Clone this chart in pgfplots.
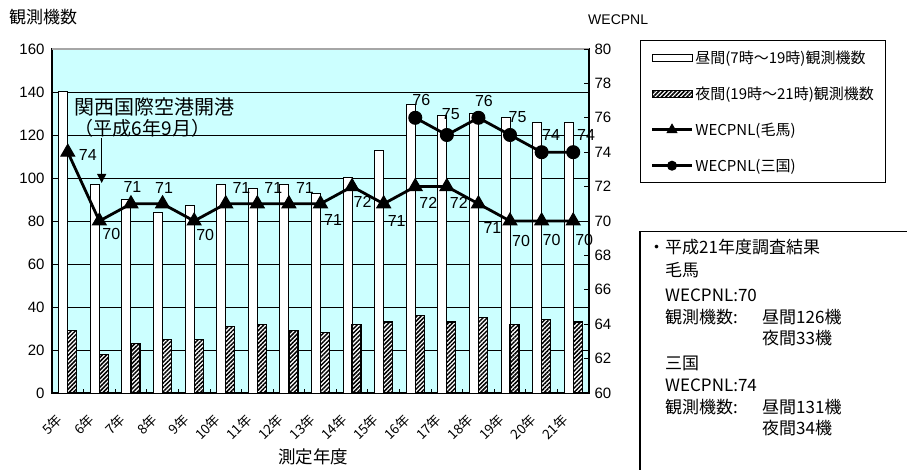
\documentclass[border=0pt]{standalone}
\usepackage{fontspec}
\setmainfont{Liberation Sans}
\newfontfamily\jp{Noto Sans CJK JP}
\usepackage{pgfplots}
\pgfplotsset{compat=1.18}
\usepackage{pgfplotstable}
\usetikzlibrary{patterns,patterns.meta,arrows.meta}
\definecolor{bgc}{RGB}{204,255,255}
\newcommand\fs[1]{\fontsize{#1bp}{#1bp}\selectfont}
\pgfplotsset{
  trileg/.style={legend image code/.code={\draw[mark repeat=2, mark phase=2, ##1, mark size=5.5bp] plot coordinates {(0bp,0bp) (20bp,0bp) (40bp,0bp)};}},
  cirleg/.style={legend image code/.code={\draw[mark repeat=2, mark phase=2, ##1, mark size=4.5bp] plot coordinates {(0bp,0bp) (20bp,0bp) (40bp,0bp)};}},
}
\tikzset{hatch/.style={postaction={pattern={Lines[angle=45, distance=3bp, line width=1.5bp]}, pattern color=black}}}

\pgfplotstableread{
x day night
0 140 29
1 97 18
2 90 23
3 84 25
4 87 25
5 97 31
6 95 32
7 97 29
8 93 28
9 100 32
10 113 33
11 134 36
12 129 33
13 130 35
14 128 32
15 126 34
16 126 33
}\counts

\pgfplotstableread{
x w dx dy
0 74 20 -3
1 70 12 -13
2 71 1.5 17
3 71 1.5 16
4 70 11 -14
5 71 15.7 16
6 71 16 16
7 71 16 16
8 71 12.5 -16
9 72 10.5 -15
10 71 13 -16.7
11 72 13 -16.7
12 72 12 -16.7
13 71 14 -24
14 70 11 -20
15 70 10 -19
16 70 11 -19
}\kema

\pgfplotstableread{
x w dx dy
11 76 6 17.8
12 75 4 21
13 76 5.5 17
14 75 7.5 17.5
15 74 9.4 17
16 74 12.8 17
}\mikuni

\begin{document}
\begin{tikzpicture}
\useasboundingbox (0bp,0bp) rectangle (907bp,470bp);

\begin{axis}[
  at={(52bp,77bp)}, anchor=south west, scale only axis,
  width=537bp, height=344bp,
  xmin=-0.5, xmax=16.5, ymin=0, ymax=160,
  axis background/.style={fill=bgc},
  ybar=0pt, bar width=9bp,
  ytick={0,20,...,160}, ymajorgrids,
  grid style={black, line width=0.8bp},
  ytick style={draw=none},
  xtick={-0.5,0.5,...,16.5}, xticklabels={},
  xtick pos=bottom, ytick pos=left,
  tick align=inside, major tick length=4bp,
  xtick style={black, line width=0.8bp},
  extra x ticks={0,1,...,16},
  extra x tick labels={5年,6年,7年,8年,9年,10年,11年,12年,13年,14年,15年,16年,17年,18年,19年,20年,21年},
  extra x tick style={major tick length=0pt,
     xticklabel style={font=\jp\fs{13.5}, xshift=-8bp, yshift=-24bp, anchor=east, rotate=45, inner sep=0pt}},
  axis line style={black, line width=1.5bp},
  tick label style={font=\fs{15}},
  /pgf/number format/assume math mode=true,
  yticklabel style={xshift=-4bp},
  clip=false,
]
\addplot[fill=white, draw=black, line width=1bp] table[x=x, y=day] \counts;
\addplot[fill=white, draw=black, line width=1.2bp, hatch] table[x=x, y=night] \counts;
\draw[gray!70, line width=1.5bp] (rel axis cs:0,1) -- (rel axis cs:1,1);
\node[anchor=west, font=\jp\fs{20}, inner sep=0pt] at (axis cs:0.22,133) {関西国際空港開港};
\node[anchor=west, font=\jp\fs{19}, inner sep=0pt] at (axis cs:0.22,123.3) {（平成6年9月）};
\draw[line width=1bp, -{Triangle[width=9bp,length=9bp]}] (axis cs:1.073,118.6) -- (axis cs:1.073,97.7);
\end{axis}

\begin{axis}[
  at={(52bp,77bp)}, anchor=south west, scale only axis,
  width=537bp, height=344bp,
  xmin=-0.5, xmax=16.5, ymin=60, ymax=80,
  axis x line=none, axis y line*=right,
  ytick={60,62,...,80}, tick align=inside, major tick length=5bp,
  ytick style={black, line width=0.8bp},
  axis line style={black, line width=1.5bp},
  tick label style={font=\fs{15}},
  /pgf/number format/assume math mode=true,
  yticklabel style={xshift=2bp},
  clip=false,
  legend style={at={(1.095,1.026)}, anchor=north west, draw=black, line width=1.2bp,
     font=\jp\fs{15}, inner xsep=10bp, inner ysep=8bp, row sep=18bp,
     cells={anchor=west}},
  legend cell align=left,
]
\addlegendimage{legend image code/.code={\draw[fill=white, draw=black, line width=1bp] (0bp,-3.5bp) rectangle (40bp,3.5bp);}}
\addlegendentry{昼間(7時～19時)観測機数}
\addlegendimage{legend image code/.code={\draw[fill=white, draw=black, line width=1bp, hatch] (0bp,-3.5bp) rectangle (40bp,3.5bp);}}
\addlegendentry{夜間(19時～21時)観測機数}

\addplot[black, line width=2.8bp, mark=triangle*, mark size=8bp,
  mark options={solid, line width=1bp}, trileg,
  nodes near coords,
  visualization depends on={\thisrow{dx} \as \dx},
  visualization depends on={\thisrow{dy} \as \dy},
  every node near coord/.append style={anchor=center, xshift=\dx bp, yshift=\dy bp, font=\fs{16}, inner sep=0pt, text=black},
] table[x=x, y=w] \kema;
\addlegendentry{WECPNL(毛馬)}

\addplot[black, line width=2.8bp, mark=*, mark size=6.5bp,
  mark options={solid, line width=1bp}, cirleg,
  nodes near coords,
  visualization depends on={\thisrow{dx} \as \dx},
  visualization depends on={\thisrow{dy} \as \dy},
  every node near coord/.append style={anchor=center, xshift=\dx bp, yshift=\dy bp, font=\fs{16}, inner sep=0pt, text=black},
] table[x=x, y=w] \mikuni;
\addlegendentry{WECPNL(三国)}
\end{axis}

% titles
\node[anchor=west, font=\jp\fs{17}, inner sep=0pt] at (9bp,453bp) {観測機数};
\node[anchor=west, font=\fs{14}, inner sep=0pt] at (588bp,450bp) {WECPNL};
\node[font=\jp\fs{17.5}, inner sep=0pt] at (313bp,13bp) {測定年度};

% info box
\draw[line width=1.2bp] (640bp,-3bp) rectangle (912bp,238.3bp);
\begin{scope}[every node/.style={anchor=west, font=\jp\fs{17}, inner sep=0pt}]
\node at (648bp,223.3bp) {・平成21年度調査結果};
\node at (665bp,200bp) {毛馬};
\node at (665bp,175bp) {WECPNL:70};
\node at (665bp,153.3bp) {観測機数:};
\node at (762bp,153.3bp) {昼間126機};
\node at (762bp,131.7bp) {夜間33機};
\node at (665bp,106.7bp) {三国};
\node at (665bp,85bp) {WECPNL:74};
\node at (665bp,63.3bp) {観測機数:};
\node at (762bp,63.3bp) {昼間131機};
\node at (762bp,41.7bp) {夜間34機};
\end{scope}
\end{tikzpicture}
\end{document}
